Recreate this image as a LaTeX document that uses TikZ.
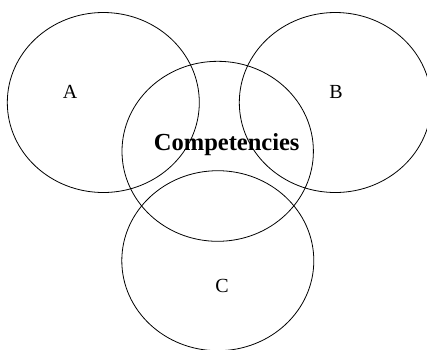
\documentclass[tikz,border=0pt]{standalone}
\usepackage{fontspec}
\setmainfont{Liberation Serif}
\begin{document}
\begin{tikzpicture}[x=1pt,y=-1pt,
  ring/.style={draw=black,line width=0.8pt},
  lbl/.style={font=\fontsize{20}{24}\selectfont,inner sep=0pt},
  title/.style={font=\fontsize{24.5}{28}\selectfont\bfseries,inner sep=0pt}]
\useasboundingbox (0,0) rectangle (427,349);
\begin{scope}
\clip (0,0) rectangle (427,349);
\draw[ring] (103.3,102.5) ellipse [x radius=96, y radius=90];
\draw[ring] (335.3,102.5) ellipse [x radius=96, y radius=90];
\draw[ring] (217.7,151.3) ellipse [x radius=95.7, y radius=90];
\draw[ring] (217.8,260.7) ellipse [x radius=96, y radius=90];
\end{scope}
\node[lbl] (a) at (70,92) {A};
\node[lbl] (b) at (336,92) {B};
\node[title] (comp) at (226.7,145) {Competencies};
\node[lbl] (c) at (222,286) {C};
\end{tikzpicture}
\end{document}
